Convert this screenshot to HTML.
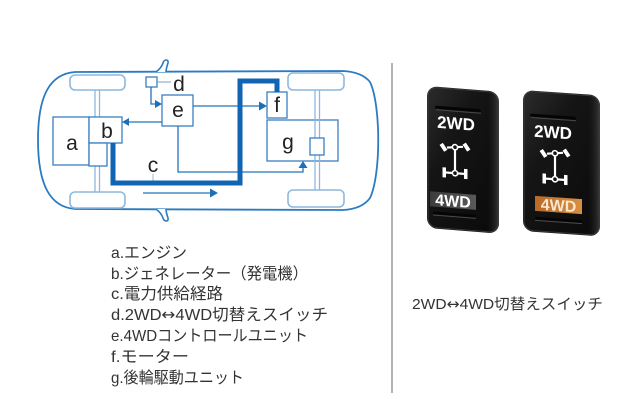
<!DOCTYPE html>
<html>
<head>
<meta charset="utf-8">
<style>
html,body{margin:0;padding:0;background:#fff;}
svg{display:block;}
</style>
</head>
<body>
<svg width="630" height="420" viewBox="0 0 630 420" xmlns="http://www.w3.org/2000/svg">
<defs>
  <linearGradient id="sw" x1="0" y1="0" x2="1" y2="1">
    <stop offset="0" stop-color="#2c2c2c"/>
    <stop offset="0.35" stop-color="#151515"/>
    <stop offset="1" stop-color="#0a0a0a"/>
  </linearGradient>
  <linearGradient id="edge" x1="0" y1="0" x2="1" y2="0">
    <stop offset="0" stop-color="#000" stop-opacity="0"/>
    <stop offset="0.8" stop-color="#000" stop-opacity="0"/>
    <stop offset="1" stop-color="#555" stop-opacity="0.6"/>
  </linearGradient>
  <linearGradient id="orange" x1="0" y1="0" x2="1" y2="0">
    <stop offset="0" stop-color="#b86a28"/>
    <stop offset="1" stop-color="#d98f42"/>
  </linearGradient>
  <linearGradient id="gray" x1="0" y1="0" x2="1" y2="0">
    <stop offset="0" stop-color="#3c3c3c"/>
    <stop offset="1" stop-color="#5a5a5a"/>
  </linearGradient>
  <g id="drive">
    <line x1="-8" y1="5" x2="8" y2="3" stroke="#fff" stroke-width="2.2"/>
    <rect x="-13.5" y="1" width="4" height="8" fill="#fff" transform="rotate(-35 -11.5 5)"/>
    <rect x="9.5" y="-1" width="4" height="8" fill="#fff" transform="rotate(-35 11.5 3)"/>
    <line x1="0" y1="6" x2="0" y2="29" stroke="#fff" stroke-width="2.2"/>
    <circle cx="0" cy="4" r="2.6" fill="#111" stroke="#fff" stroke-width="1.6"/>
    <line x1="-9" y1="30" x2="9" y2="30" stroke="#fff" stroke-width="2.2"/>
    <rect x="-12.5" y="25" width="3.5" height="10" fill="#fff"/>
    <rect x="9" y="25" width="3.5" height="10" fill="#fff"/>
    <circle cx="0" cy="30" r="2.6" fill="#111" stroke="#fff" stroke-width="1.6"/>
  </g>
</defs>

<!-- body outline -->
<path d="M75,72 L343,71 Q362,72 370,82 C381,105 381,175 370,198 Q362,209 343,210 L75,209 C50,207 38,185 38,140 C38,95 50,74 75,72 Z" fill="#fff" stroke="#2b7bc0" stroke-width="1.8"/>
<path d="M156,72 C160,69 162,66 163,63 C164,59 169,59 168,63 C167,66 166,69 166,72" fill="#fff" stroke="#2b7bc0" stroke-width="1.6"/>
<path d="M156,209 C160,212 162,215 163,218 C164,222 169,222 168,218 C167,215 166,212 166,209" fill="#fff" stroke="#2b7bc0" stroke-width="1.6"/>

<!-- wheels -->
<g fill="#fff" stroke="#8cb9df" stroke-width="1.6">
  <rect x="70" y="75" width="55" height="15" rx="5"/>
  <rect x="70" y="192" width="55" height="16" rx="5"/>
  <rect x="288" y="73" width="56" height="17" rx="5"/>
  <rect x="288" y="190" width="56" height="17" rx="5"/>
</g>
<g stroke="#8cb9df" stroke-width="1.3">
  <line x1="95" y1="90" x2="95" y2="192"/>
  <line x1="99.5" y1="90" x2="99.5" y2="192"/>
</g>

<!-- boxes -->
<g fill="#fff" stroke="#3a80c0" stroke-width="1.3">
  <rect x="53" y="117" width="36" height="48"/>
  <rect x="89" y="117" width="33" height="26"/>
  <rect x="89" y="143" width="18" height="23"/>
  <rect x="162" y="95" width="31" height="31"/>
  <rect x="146" y="77" width="11" height="10"/>
  <rect x="267" y="92" width="20" height="26"/>
  <rect x="267" y="120" width="71" height="41"/>
</g>
<g stroke="#8cb9df" stroke-width="1.3">
  <line x1="315" y1="90" x2="315" y2="190"/>
  <line x1="319.5" y1="90" x2="319.5" y2="190"/>
</g>
<rect x="310" y="138" width="14" height="17" fill="#fff" stroke="#3a80c0" stroke-width="1.3"/>

<!-- thin connectors -->
<g fill="none" stroke="#2573bb" stroke-width="1.3">
  <polyline points="151,87 151,104 157,104"/>
  <line x1="162" y1="122" x2="128" y2="122"/>
  <line x1="193" y1="106" x2="261" y2="106"/>
  <polyline points="178,126 178,172 303,172 303,167"/>
  <line x1="143" y1="193" x2="211" y2="193"/>
</g>
<line x1="157" y1="82" x2="171" y2="82" stroke="#7a9cc0" stroke-width="1"/>
<line x1="153" y1="174" x2="153" y2="181" stroke="#9ab8d4" stroke-width="1"/>
<g fill="#1f6fb8">
  <polygon points="162,104 155,100 155,108"/>
  <polygon points="122,122 129,118 129,126"/>
  <polygon points="267,106 259,101.5 259,110.5"/>
  <polygon points="303,161 298.5,168 307.5,168"/>
  <polygon points="218,193 210,188.5 210,197.5"/>
</g>

<polyline points="113,143 113,183 240,183 240,81 277,81 277,92" fill="none" stroke="#1265b3" stroke-width="5" stroke-linejoin="miter"/>

<g font-family="Liberation Sans, sans-serif" font-size="21" fill="#222" text-anchor="middle">
  <text x="72" y="150">a</text>
  <text x="107" y="138">b</text>
  <text x="153" y="172">c</text>
  <text x="179" y="91">d</text>
  <text x="178" y="117">e</text>
  <text x="277" y="112">f</text>
  <text x="288" y="149">g</text>
</g>

<!-- legend -->
<g font-family="Liberation Sans, 'Noto Sans CJK JP', sans-serif" font-size="16" fill="#333">
  <text x="111" y="258" textLength="76" lengthAdjust="spacingAndGlyphs">a.エンジン</text>
  <text x="111" y="279" textLength="197" lengthAdjust="spacingAndGlyphs">b.ジェネレーター（発電機）</text>
  <text x="111" y="299" textLength="112" lengthAdjust="spacingAndGlyphs">c.電力供給経路</text>
  <text x="111" y="320" textLength="217" lengthAdjust="spacingAndGlyphs">d.2WD<tspan font-family="DejaVu Sans, sans-serif">↔</tspan>4WD切替えスイッチ</text>
  <text x="111" y="341" textLength="197" lengthAdjust="spacingAndGlyphs">e.4WDコントロールユニット</text>
  <text x="111" y="362" textLength="78" lengthAdjust="spacingAndGlyphs">f.モーター</text>
  <text x="111" y="383" textLength="133" lengthAdjust="spacingAndGlyphs">g.後輪駆動ユニット</text>
</g>

<line x1="392" y1="63" x2="392" y2="393" stroke="#6a6a6a" stroke-width="1"/>

<!-- switch 1 -->
<g transform="translate(427,86) skewY(4.5)">
  <rect x="0" y="0" width="72" height="142" rx="10" fill="url(#sw)"/>
  <rect x="0" y="0" width="72" height="142" rx="10" fill="url(#edge)"/>
  <rect x="1" y="1" width="70" height="140" rx="9" fill="none" stroke="#3a3a3a" stroke-width="1"/>
  <rect x="8" y="19" width="46" height="3" rx="1.5" fill="#050505"/>
  <line x1="9" y1="23" x2="54" y2="23" stroke="#4a4a4a" stroke-width="1"/>
  <text x="29" y="41" text-anchor="middle" font-family="Liberation Sans, sans-serif" font-weight="bold" font-size="17" fill="#fff">2WD</text>
  <use href="#drive" x="28" y="55"/>
  <rect x="3" y="105" width="46" height="15" fill="url(#gray)"/>
  <text x="26" y="118.5" text-anchor="middle" font-family="Liberation Sans, sans-serif" font-weight="bold" font-size="16" fill="#fff">4WD</text>
  <rect x="6" y="125" width="43" height="2.5" rx="1" fill="#050505"/>
  <line x1="6" y1="128.5" x2="49" y2="128.5" stroke="#4a4a4a" stroke-width="1"/>
</g>
<!-- switch 2 -->
<g transform="translate(523,90) skewY(4)">
  <rect x="0" y="0" width="77" height="141" rx="10" fill="url(#sw)"/>
  <rect x="0" y="0" width="77" height="141" rx="10" fill="url(#edge)"/>
  <rect x="1" y="1" width="75" height="139" rx="9" fill="none" stroke="#3a3a3a" stroke-width="1"/>
  <rect x="7" y="23" width="46" height="3" rx="1.5" fill="#050505"/>
  <line x1="8" y1="27" x2="53" y2="27" stroke="#4a4a4a" stroke-width="1"/>
  <text x="30" y="46" text-anchor="middle" font-family="Liberation Sans, sans-serif" font-weight="bold" font-size="17" fill="#fff">2WD</text>
  <use href="#drive" x="32" y="57"/>
  <rect x="12" y="105" width="47" height="15" fill="url(#orange)"/>
  <text x="35.5" y="118.5" text-anchor="middle" font-family="Liberation Sans, sans-serif" font-weight="bold" font-size="16" fill="#fbe6cf">4WD</text>
  <rect x="12" y="126" width="47" height="2.5" rx="1" fill="#050505"/>
  <line x1="12" y1="129.5" x2="59" y2="129.5" stroke="#4a4a4a" stroke-width="1"/>
</g>

<text x="412" y="309" textLength="191" lengthAdjust="spacingAndGlyphs" font-family="Liberation Sans, 'Noto Sans CJK JP', sans-serif" font-size="15" fill="#333">2WD<tspan font-family="DejaVu Sans, sans-serif">↔</tspan>4WD切替えスイッチ</text>
</svg>
</body>
</html>
